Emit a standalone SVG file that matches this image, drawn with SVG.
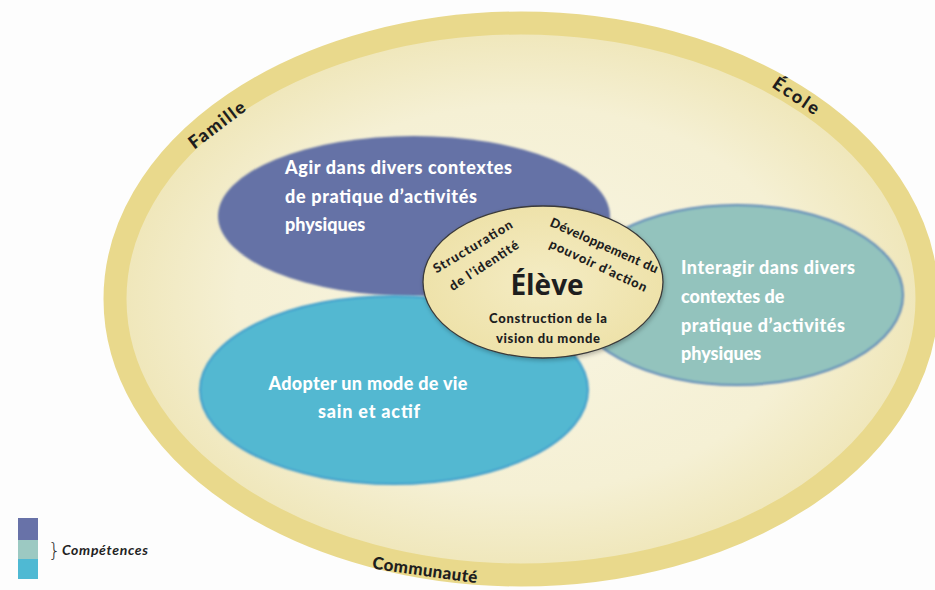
<svg xmlns="http://www.w3.org/2000/svg" width="935" height="590" viewBox="0 0 935 590">
<defs>
<radialGradient id="cream" cx="0.5" cy="0.5" r="0.5">
<stop offset="0" stop-color="#f8f5e2"/>
<stop offset="0.7" stop-color="#f5f0d4"/>
<stop offset="1" stop-color="#efe6b8"/>
</radialGradient>
<radialGradient id="core" cx="0.5" cy="0.5" r="0.5">
<stop offset="0" stop-color="#f4ecc4"/>
<stop offset="1" stop-color="#eee2aa"/>
</radialGradient>
<filter id="soft" x="-5%" y="-5%" width="110%" height="110%"><feGaussianBlur stdDeviation="1.2"/></filter>
<filter id="shadow" x="-10%" y="-10%" width="120%" height="125%"><feDropShadow dx="1" dy="2" stdDeviation="2" flood-color="#000" flood-opacity="0.25"/></filter>
</defs>
<style>
.lab{font-family:"Lato","Open Sans",sans-serif;font-weight:900;fill:#1e1e1e;}
.wt{font-family:"Lato","Open Sans",sans-serif;font-weight:900;fill:#ffffff;font-size:18px;}
.ct{font-family:"Lato","Open Sans",sans-serif;font-weight:900;fill:#1e1e1e;font-size:13px;text-anchor:middle;}
</style>
<rect width="935" height="590" fill="#fdfdfd"/>

<g id="outer">
<ellipse cx="521" cy="299" rx="406" ry="276" fill="url(#cream)" stroke="#e9d98c" stroke-width="23"/>
<text class="lab" font-size="18" text-anchor="middle" transform="translate(217,125) rotate(-37)" y="6" textLength="66">Famille</text>
<text class="lab" font-size="18" text-anchor="middle" transform="translate(796,96) rotate(34)" y="6" textLength="52">École</text>
<text class="lab" font-size="17" text-anchor="middle" transform="translate(425,570) rotate(8)" y="6" textLength="106">Communauté</text>
</g>

<g id="connectors"></g>

<g id="interagir">
<ellipse cx="737" cy="295" rx="166" ry="90" fill="#93c3bd" stroke="#5a86b8" stroke-width="2" filter="url(#soft)"/>
<text class="wt" x="681" y="274" textLength="174">Interagir dans divers</text>
<text class="wt" x="681" y="303">contextes de</text>
<text class="wt" x="681" y="332" textLength="164">pratique d’activités</text>
<text class="wt" x="681" y="360">physiques</text>
</g>

<g id="agir">
<ellipse cx="414" cy="216" rx="196" ry="80" fill="#6572a6" filter="url(#soft)"/>
<text class="wt" x="285" y="174" textLength="227">Agir dans divers contextes</text>
<text class="wt" x="285" y="203" textLength="192">de pratique d’activités</text>
<text class="wt" x="285" y="231">physiques</text>
</g>

<g id="adopter">
<ellipse cx="394" cy="390" rx="194" ry="94" fill="#53b8d1" stroke="#3f9ccb" stroke-width="2" filter="url(#soft)"/>
<text class="wt" x="368" y="390" text-anchor="middle" textLength="199">Adopter un mode de vie</text>
<text class="wt" x="369" y="418" text-anchor="middle" textLength="102">sain et actif</text>
</g>

<g id="eleve">
<ellipse cx="543" cy="282" rx="120" ry="76" fill="url(#core)" stroke="#3a3a3a" stroke-width="1.3" filter="url(#shadow)"/>
<text class="ct" transform="translate(473,247) rotate(-31)" y="4" textLength="90">Structuration</text>
<text class="ct" transform="translate(484,266) rotate(-33)" y="4" textLength="80">de l’identité</text>
<text class="ct" transform="translate(604,246) rotate(24)" y="4" textLength="117">Développement du</text>
<text class="ct" transform="translate(598,266) rotate(25)" y="4" textLength="106">pouvoir d’action</text>
<text x="547" y="295" text-anchor="middle" font-family="'Open Sans','Liberation Sans',sans-serif" font-weight="700" font-size="28" fill="#1e1e1e">Élève</text>
<text class="ct" x="548" y="323" textLength="118">Construction de la</text>
<text class="ct" x="548" y="343" textLength="104">vision du monde</text>
</g>

<g id="legend">
<rect x="18" y="518" width="20" height="22" fill="#6872a8"/>
<rect x="18" y="540" width="20" height="19" fill="#9cc9c2"/>
<rect x="18" y="559" width="20" height="20" fill="#4fb9d3"/>
<text x="48" y="557" font-family="'DejaVu Sans',sans-serif" font-weight="300" font-size="20" fill="#333">}</text>
<text x="62" y="555" font-family="'Lato',sans-serif" font-weight="700" font-style="italic" font-size="14" fill="#222" textLength="86">Compétences</text>
</g>
</svg>
